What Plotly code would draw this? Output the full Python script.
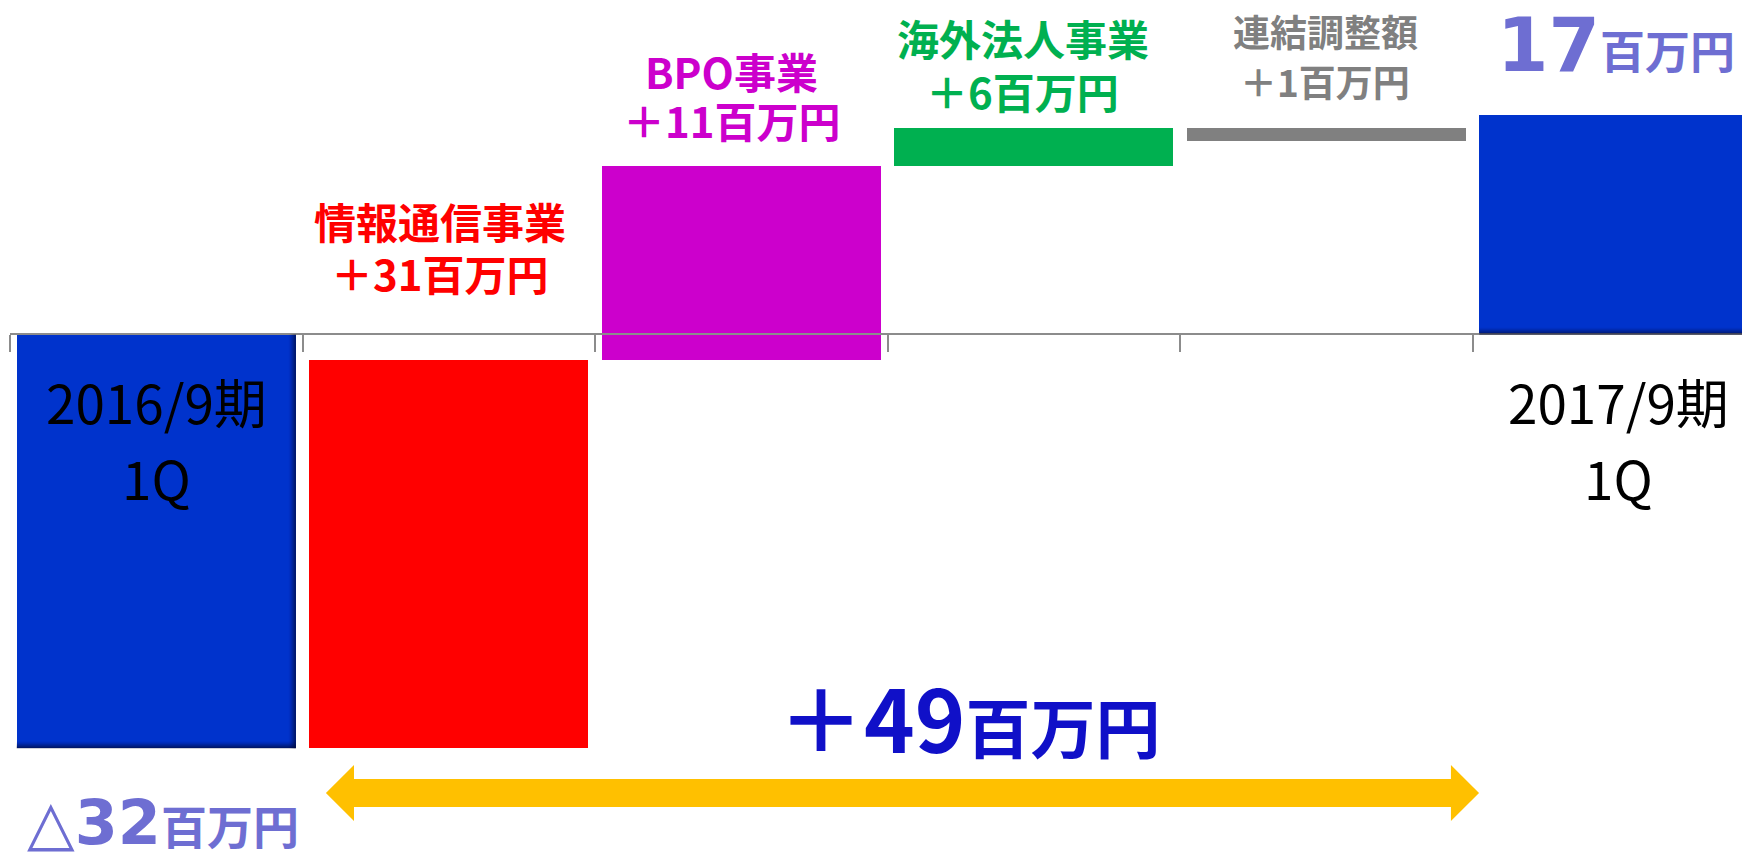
import plotly.graph_objects as go

# ---------------- data ----------------
categories = ["2016/9期 1Q", "情報通信事業", "BPO事業", "海外法人事業", "連結調整額", "2017/9期 1Q"]
bar_base = [0, -32, -2, 13, 15, 0]
bar_delta = [-32, 30, 15, 3, 1, 17]
bar_colors = ["#0033CC", "#FF0000", "#CC00CC", "#00B050", "#808080", "#0033CC"]
segment_names = ["情報通信事業", "BPO事業", "海外法人事業", "連結調整額"]
segment_changes = ["＋31百万円", "＋11百万円", "＋6百万円", "＋1百万円"]
segment_colors = ["#FF0000", "#CC00CC", "#00B050", "#808080"]
period_labels = ["2016/9期", "2017/9期"]
quarter_label = "1Q"
start_value = "△32"
end_value = "17"
total_change = "＋49"
unit = "百万円"

FONT = "Noto Sans CJK JP"
NUMFONT = "DejaVu Sans, Noto Sans CJK JP"
idx = list(range(len(categories)))
BAR_W = 0.954
PX_X = 1 / 292.5    # data units per pixel (x)
PX_Y = 1 / 12.93    # data units per pixel (y)

fig = go.Figure()
fig.add_trace(go.Bar(
    x=idx, y=bar_delta, base=bar_base, width=BAR_W,
    marker=dict(color=bar_colors, line=dict(width=0)),
    hovertext=categories, hoverinfo="text", showlegend=False,
))

shapes = []
# bevel shading on the two total (blue) bars
for i in (0, len(idx) - 1):
    lo = min(bar_base[i], bar_base[i] + bar_delta[i])
    hi = max(bar_base[i], bar_base[i] + bar_delta[i])
    x0, x1 = idx[i] - BAR_W / 2, idx[i] + BAR_W / 2
    n = 7
    for k in range(n):
        op = 0.75 * (1 - k / n) ** 1.5
        shapes.append(dict(type="rect", xref="x", yref="y", layer="above",
                           x0=x0, x1=x1, y0=lo + k * PX_Y, y1=lo + (k + 1) * PX_Y,
                           fillcolor="#000833", opacity=op, line=dict(width=0)))
        if i == 0:
            shapes.append(dict(type="rect", xref="x", yref="y", layer="above",
                               x0=x1 - (k + 1) * PX_X, x1=x1 - k * PX_X, y0=lo, y1=hi,
                               fillcolor="#000833", opacity=op, line=dict(width=0)))

ann = []
name_y = [8.85, 20.45, 22.95, 23.45]
chg_y = [4.8, 16.65, 18.85, 19.6]
lab_x = [0.97, 1.968, 2.963, 3.996]
sizes = [42, 42, 42, 37]
for i in range(4):
    for yy, tx in ((name_y[i], segment_names[i]), (chg_y[i], segment_changes[i])):
        ann.append(dict(x=lab_x[i], y=yy, xref="x", yref="y", text="<b>%s</b>" % tx,
                        showarrow=False, font=dict(family=FONT, size=sizes[i], color=segment_colors[i]),
                        xanchor="center", yanchor="middle"))

for xi, lab in zip([0, 5], period_labels):
    ann.append(dict(x=xi, y=-5.15, xref="x", yref="y", text=lab, showarrow=False,
                    font=dict(family=FONT, size=53, color="#000000"), xanchor="center", yanchor="middle"))
    ann.append(dict(x=xi, y=-11.0, xref="x", yref="y", text=quarter_label, showarrow=False,
                    font=dict(family=FONT, size=53, color="#000000"), xanchor="center", yanchor="middle"))

VALC = "#6E6ED2"
# ending value "17百万円"
ann.append(dict(x=4.942, y=22.4, xref="x", yref="y", text="<b>%s</b>" % end_value,
                showarrow=False, font=dict(family=NUMFONT, size=74, color=VALC),
                xanchor="right", yanchor="middle"))
ann.append(dict(x=5.404, y=22.08, xref="x", yref="y", text="<b>%s</b>" % unit,
                showarrow=False, font=dict(family=FONT, size=45, color=VALC),
                xanchor="right", yanchor="middle"))
# starting value "△32百万円"
ann.append(dict(x=-0.45, y=-37.75, xref="x", yref="y",
                text="%s<b>%s</b><b><span style='font-size:46px'>%s</span></b>"
                     % (start_value[0], start_value[1:], unit),
                showarrow=False, font=dict(family=NUMFONT, size=62, color=VALC), xanchor="left", yanchor="middle"))
# total change
ann.append(dict(x=2.78, y=-29.45, xref="x", yref="y",
                text="<b>%s</b><b><span style='font-size:65px'>%s</span></b>" % (total_change, unit),
                showarrow=False, font=dict(family=FONT, size=86, color="#1010C8"), xanchor="center", yanchor="middle"))

# double-headed block arrow
xl, xlb, xrb, xr = 0.580, 0.676, 4.426, 4.522
yh_t, ys_t, yc, ys_b, yh_b = -33.29, -34.38, -35.46, -36.54, -37.63
path = (f"M {xl},{yc} L {xlb},{yh_t} L {xlb},{ys_t} L {xrb},{ys_t} L {xrb},{yh_t} L {xr},{yc} "
        f"L {xrb},{yh_b} L {xrb},{ys_b} L {xlb},{ys_b} L {xlb},{yh_b} Z")
shapes.append(dict(type="path", path=path, xref="x", yref="y", fillcolor="#FFC000", line=dict(width=0)))

fig.update_layout(
    width=1742, height=852,
    margin=dict(l=10, r=0, t=0, b=0),
    paper_bgcolor="white", plot_bgcolor="white",
    showlegend=False,
    annotations=ann, shapes=shapes,
    xaxis=dict(type="linear", range=[-0.5, 5.421], tickmode="array",
               tickvals=[-0.5, 0.5, 1.5, 2.5, 3.5, 4.5], showticklabels=False,
               ticks="outside", ticklen=17, tickwidth=2, tickcolor="#8C8C8C",
               showline=True, linecolor="#8C8C8C", linewidth=2, showgrid=False, zeroline=False,
               anchor="free", position=0.6074, fixedrange=True),
    yaxis=dict(range=[-40.02, 25.87], visible=False, fixedrange=True),
    bargap=0,
)

fig.write_html("out.html", config={"displayModeBar": False},
               post_script="document.body.style.margin='0';document.body.style.overflow='hidden';")
